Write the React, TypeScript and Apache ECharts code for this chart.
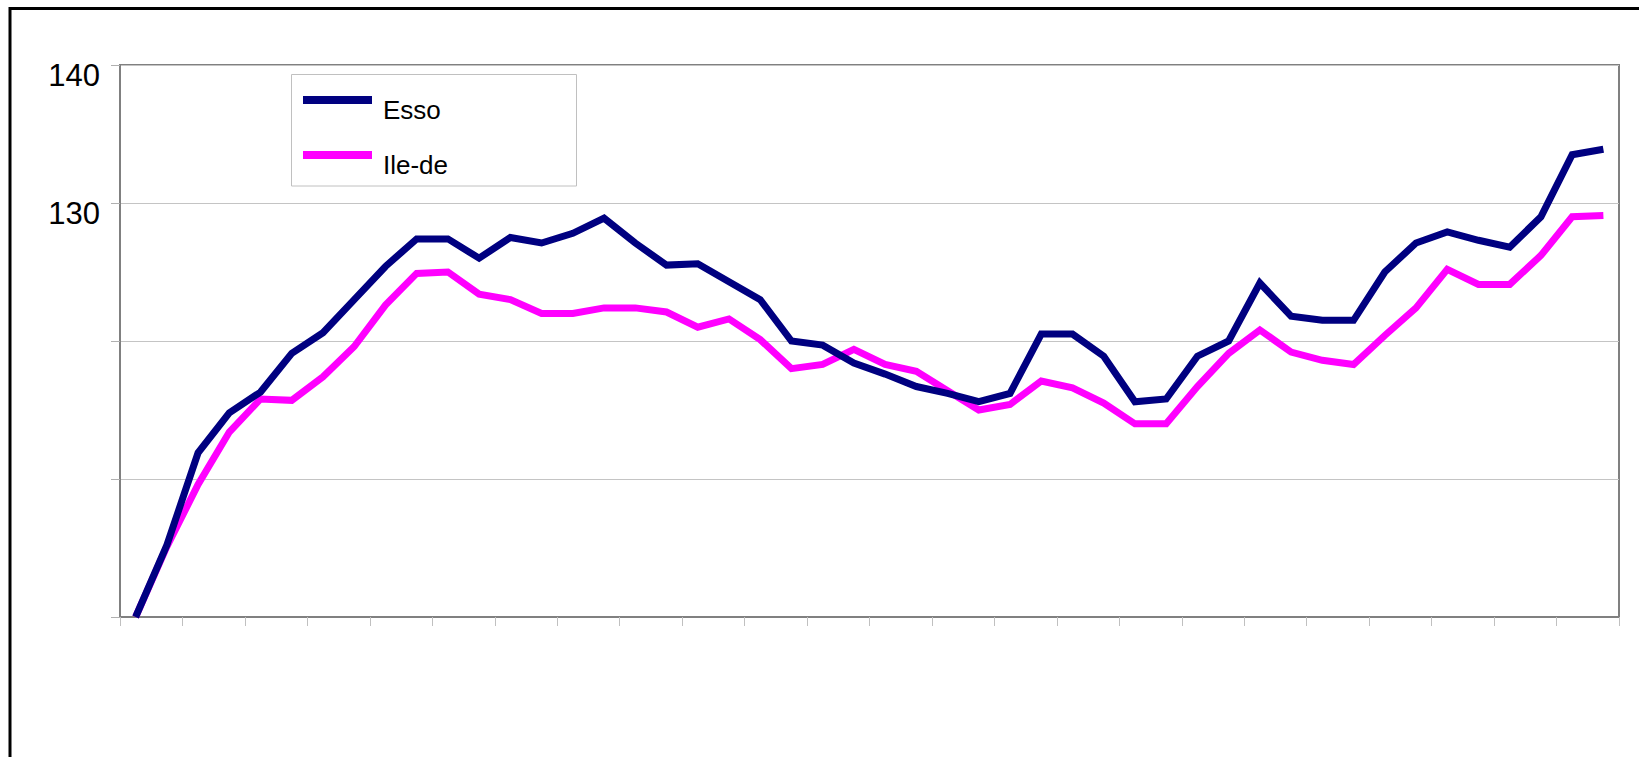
import React, { useEffect, useRef } from "react";
import * as echarts from "echarts";

const categories = [
  "1", "2", "3", "4", "5", "6", "7", "8", "9", "10", "11", "12",
  "13", "14", "15", "16", "17", "18", "19", "20", "21", "22", "23", "24",
  "25", "26", "27", "28", "29", "30", "31", "32", "33", "34", "35", "36",
  "37", "38", "39", "40", "41", "42", "43", "44", "45", "46", "47", "48",
];

const essonne = [
  100, 105.2, 111.9, 114.8, 116.3, 119.1, 120.6, 123.0, 125.4, 127.4, 127.4, 126.0,
  127.5, 127.1, 127.8, 128.9, 127.1, 125.5, 125.6, 124.3, 123.0, 120.0, 119.7, 118.4,
  117.6, 116.7, 116.2, 115.6, 116.2, 120.5, 120.5, 118.9, 115.6, 115.8, 118.9, 120.0,
  124.2, 121.8, 121.5, 121.5, 125.0, 127.1, 127.9, 127.3, 126.8, 129.0, 133.5, 133.9,
];

const ileDeFrance = [
  100, 105.1, 109.6, 113.4, 115.8, 115.7, 117.4, 119.6, 122.6, 124.9, 125.0, 123.4,
  123.0, 122.0, 122.0, 122.4, 122.4, 122.1, 121.0, 121.6, 120.1, 118.0, 118.3, 119.4,
  118.3, 117.8, 116.4, 115.0, 115.4, 117.1, 116.6, 115.5, 114.0, 114.0, 116.7, 119.1,
  120.8, 119.2, 118.6, 118.3, 120.4, 122.4, 125.2, 124.1, 124.1, 126.2, 129.0, 129.1,
];

const seriesNames = ["Essonne", "Ile-de-France"];
const shownYLabels = [130, 140];

const FONT = "'Liberation Sans', Arial, sans-serif";

export default function App() {
  const ref = useRef<HTMLDivElement>(null);

  useEffect(() => {
    if (!ref.current) return;
    const chart = echarts.init(ref.current, undefined, { renderer: "svg" });

    const legendText = {
      color: "#000",
      fontFamily: FONT,
      fontSize: 26,
      width: 77,
      overflow: "truncate",
      ellipsis: "",
      rich: {
        t: {
          color: "#000",
          fontFamily: FONT,
          fontSize: 26,
          lineHeight: 26,
          padding: [20, 0, 0, 6],
        },
      },
    };

    const legendBase = {
      left: 303,
      padding: 0,
      itemWidth: 69,
      itemHeight: 8,
      itemGap: 0,
      selectedMode: false,
      textStyle: legendText,
      formatter: (name: string) => `{t|${name}}`,
      z: 5,
    };

    chart.setOption({
      animation: false,
      backgroundColor: "#ffffff",
      grid: {
        left: 120,
        top: 65,
        right: 20,
        bottom: 140,
        show: true,
        borderColor: "#808080",
        borderWidth: 2,
        backgroundColor: "transparent",
      },
      graphic: [
        {
          type: "rect",
          z: 0,
          silent: true,
          shape: { x: 10, y: 8.5, width: 1700, height: 900 },
          style: { fill: "none", stroke: "#000000", lineWidth: 3 },
        },
        {
          type: "rect",
          z: 3,
          silent: true,
          shape: { x: 291.5, y: 74.5, width: 285, height: 111.5 },
          style: { fill: "#ffffff", stroke: "#c0c0c0", lineWidth: 1 },
        },
      ],
      legend: [
        { ...legendBase, data: [{ name: seriesNames[0], icon: "rect" }], top: 77 },
        { ...legendBase, data: [{ name: seriesNames[1], icon: "rect" }], top: 132 },
      ],
      xAxis: {
        type: "category",
        data: categories,
        boundaryGap: true,
        axisLine: { show: true, lineStyle: { color: "#808080", width: 2 } },
        axisTick: {
          show: true,
          interval: 1,
          length: 9,
          lineStyle: { color: "#c0c0c0", width: 1 },
        },
        axisLabel: { show: false },
        splitLine: { show: false },
      },
      yAxis: {
        type: "value",
        min: 100,
        max: 140,
        interval: 10,
        axisLine: { show: true, lineStyle: { color: "#808080", width: 2 } },
        axisTick: {
          show: true,
          length: 9,
          lineStyle: { color: "#b0b0b0", width: 1 },
        },
        axisLabel: {
          show: true,
          margin: 20,
          color: "#000",
          fontFamily: FONT,
          fontSize: 31,
          formatter: (v: number) => (shownYLabels.includes(v) ? `{a|${v}}` : ""),
          rich: {
            a: {
              color: "#000",
              fontFamily: FONT,
              fontSize: 31,
              lineHeight: 31,
              padding: [20, 0, 0, 0],
            },
          },
        },
        splitLine: { show: true, lineStyle: { color: "#c4c4c4", width: 1 } },
      },
      series: [
        {
          name: seriesNames[0],
          type: "line",
          data: essonne,
          symbol: "none",
          color: "#000080",
          lineStyle: { color: "#000080", width: 7, join: "miter", cap: "butt" },
          z: 3,
        },
        {
          name: seriesNames[1],
          type: "line",
          data: ileDeFrance,
          symbol: "none",
          color: "#ff00ff",
          lineStyle: { color: "#ff00ff", width: 7, join: "miter", cap: "butt" },
          z: 2,
        },
      ],
    });

    return () => chart.dispose();
  }, []);

  return (
    <div
      ref={ref}
      style={{ position: "fixed", left: 0, top: 0, width: 1639, height: 757, background: "#fff" }}
    />
  );
}
